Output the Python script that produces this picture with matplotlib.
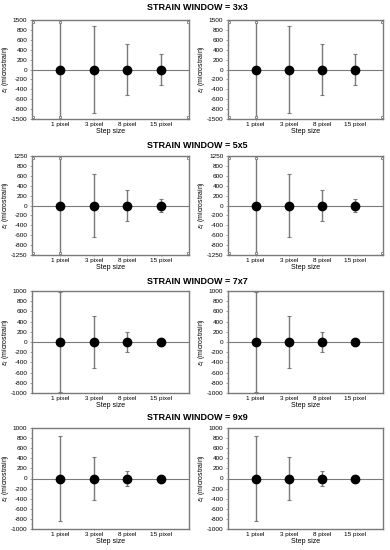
import matplotlib
matplotlib.use("Agg")
import matplotlib.pyplot as plt
from matplotlib.ticker import FixedLocator, MultipleLocator

plt.rcParams['font.family'] = ['Liberation Sans', 'DejaVu Sans']

# Data
step_labels = ["1 pixel", "3 pixel", "8 pixel", "15 pixel"]
windows = ["3x3", "5x5", "7x7", "9x9"]
means = [0, 0, 0, 0]
err_3x3 = [1500, 870, 510, 310]
err_5x5 = [1250, 630, 310, 130]
err_7x7 = [980, 510, 200, 70]
err_9x9 = [840, 425, 140, 40]
errors = [err_3x3, err_5x5, err_7x7, err_9x9]
# label shown at the top/bottom of a broken axis (None = normal axis)
break_labels = [1500, 1250, None, None]
ylabels = [r"$\epsilon_{I}$ (microstrain)", r"$\epsilon_{I}$ (microstrain)"]

GRAY = "#7a7a7a"

fig = plt.figure(figsize=(3.9, 5.5), dpi=100)

rows = [(20, 119), (156, 255), (291, 393), (428, 529)]
cols = [(32, 189), (228, 383)]
title_y = [8, 145, 282, 418]

for r, (top, bot) in enumerate(rows):
    fig.text(0.505, 1 - title_y[r] / 550, "STRAIN WINDOW = " + windows[r],
             ha="center", va="center", fontsize=6.5, fontweight="bold")
    for c, (left, right) in enumerate(cols):
        ax = fig.add_axes([left / 390, 1 - bot / 550, (right - left) / 390, (bot - top) / 550])
        x = list(range(1, len(step_labels) + 1))
        ax.axhline(0, color=GRAY, lw=0.8, zorder=1)
        ax.errorbar(x, means, yerr=errors[r], fmt="o", color="black", ms=6,
                    ecolor=GRAY, elinewidth=1.0, capsize=1.5, capthick=0.8, zorder=3)
        ax.set_xlim(0.17, 4.83)
        ax.set_ylim(-1000, 1000)

        ticks = list(range(-1000, 1001, 200))
        labels = [str(t) for t in ticks]
        if break_labels[r] is not None:
            labels[0] = str(-break_labels[r])
            labels[-1] = str(break_labels[r])
            # break symbols at the clipped ends
            bx = [0.2, 1, 4.8]
            for yy in (-960, 960):
                ax.plot(bx, [yy] * 3, ls="none", marker="s", ms=1.8, mfc="white",
                        mec=GRAY, mew=0.6, zorder=4)
        ax.yaxis.set_major_locator(FixedLocator(ticks))
        ax.set_yticklabels(labels)
        ax.yaxis.set_minor_locator(MultipleLocator(100))
        ax.set_xticks(x)
        ax.set_xticklabels(step_labels)
        ax.tick_params(axis="both", which="major", labelsize=4.6, length=1.8,
                       width=0.5, pad=1.5, color=GRAY)
        ax.tick_params(axis="y", which="minor", length=1.0, width=0.4, color=GRAY)
        ax.tick_params(axis="x", which="major", length=1.0)
        ax.set_xlabel("Step size", fontsize=5, labelpad=0.5)
        ax.set_ylabel(ylabels[c], fontsize=5)
        ax.yaxis.set_label_coords(-0.135, 0.5)
        for s in ax.spines.values():
            s.set_color(GRAY)
            s.set_linewidth(1.0)

fig.savefig("out.png", dpi=100)
